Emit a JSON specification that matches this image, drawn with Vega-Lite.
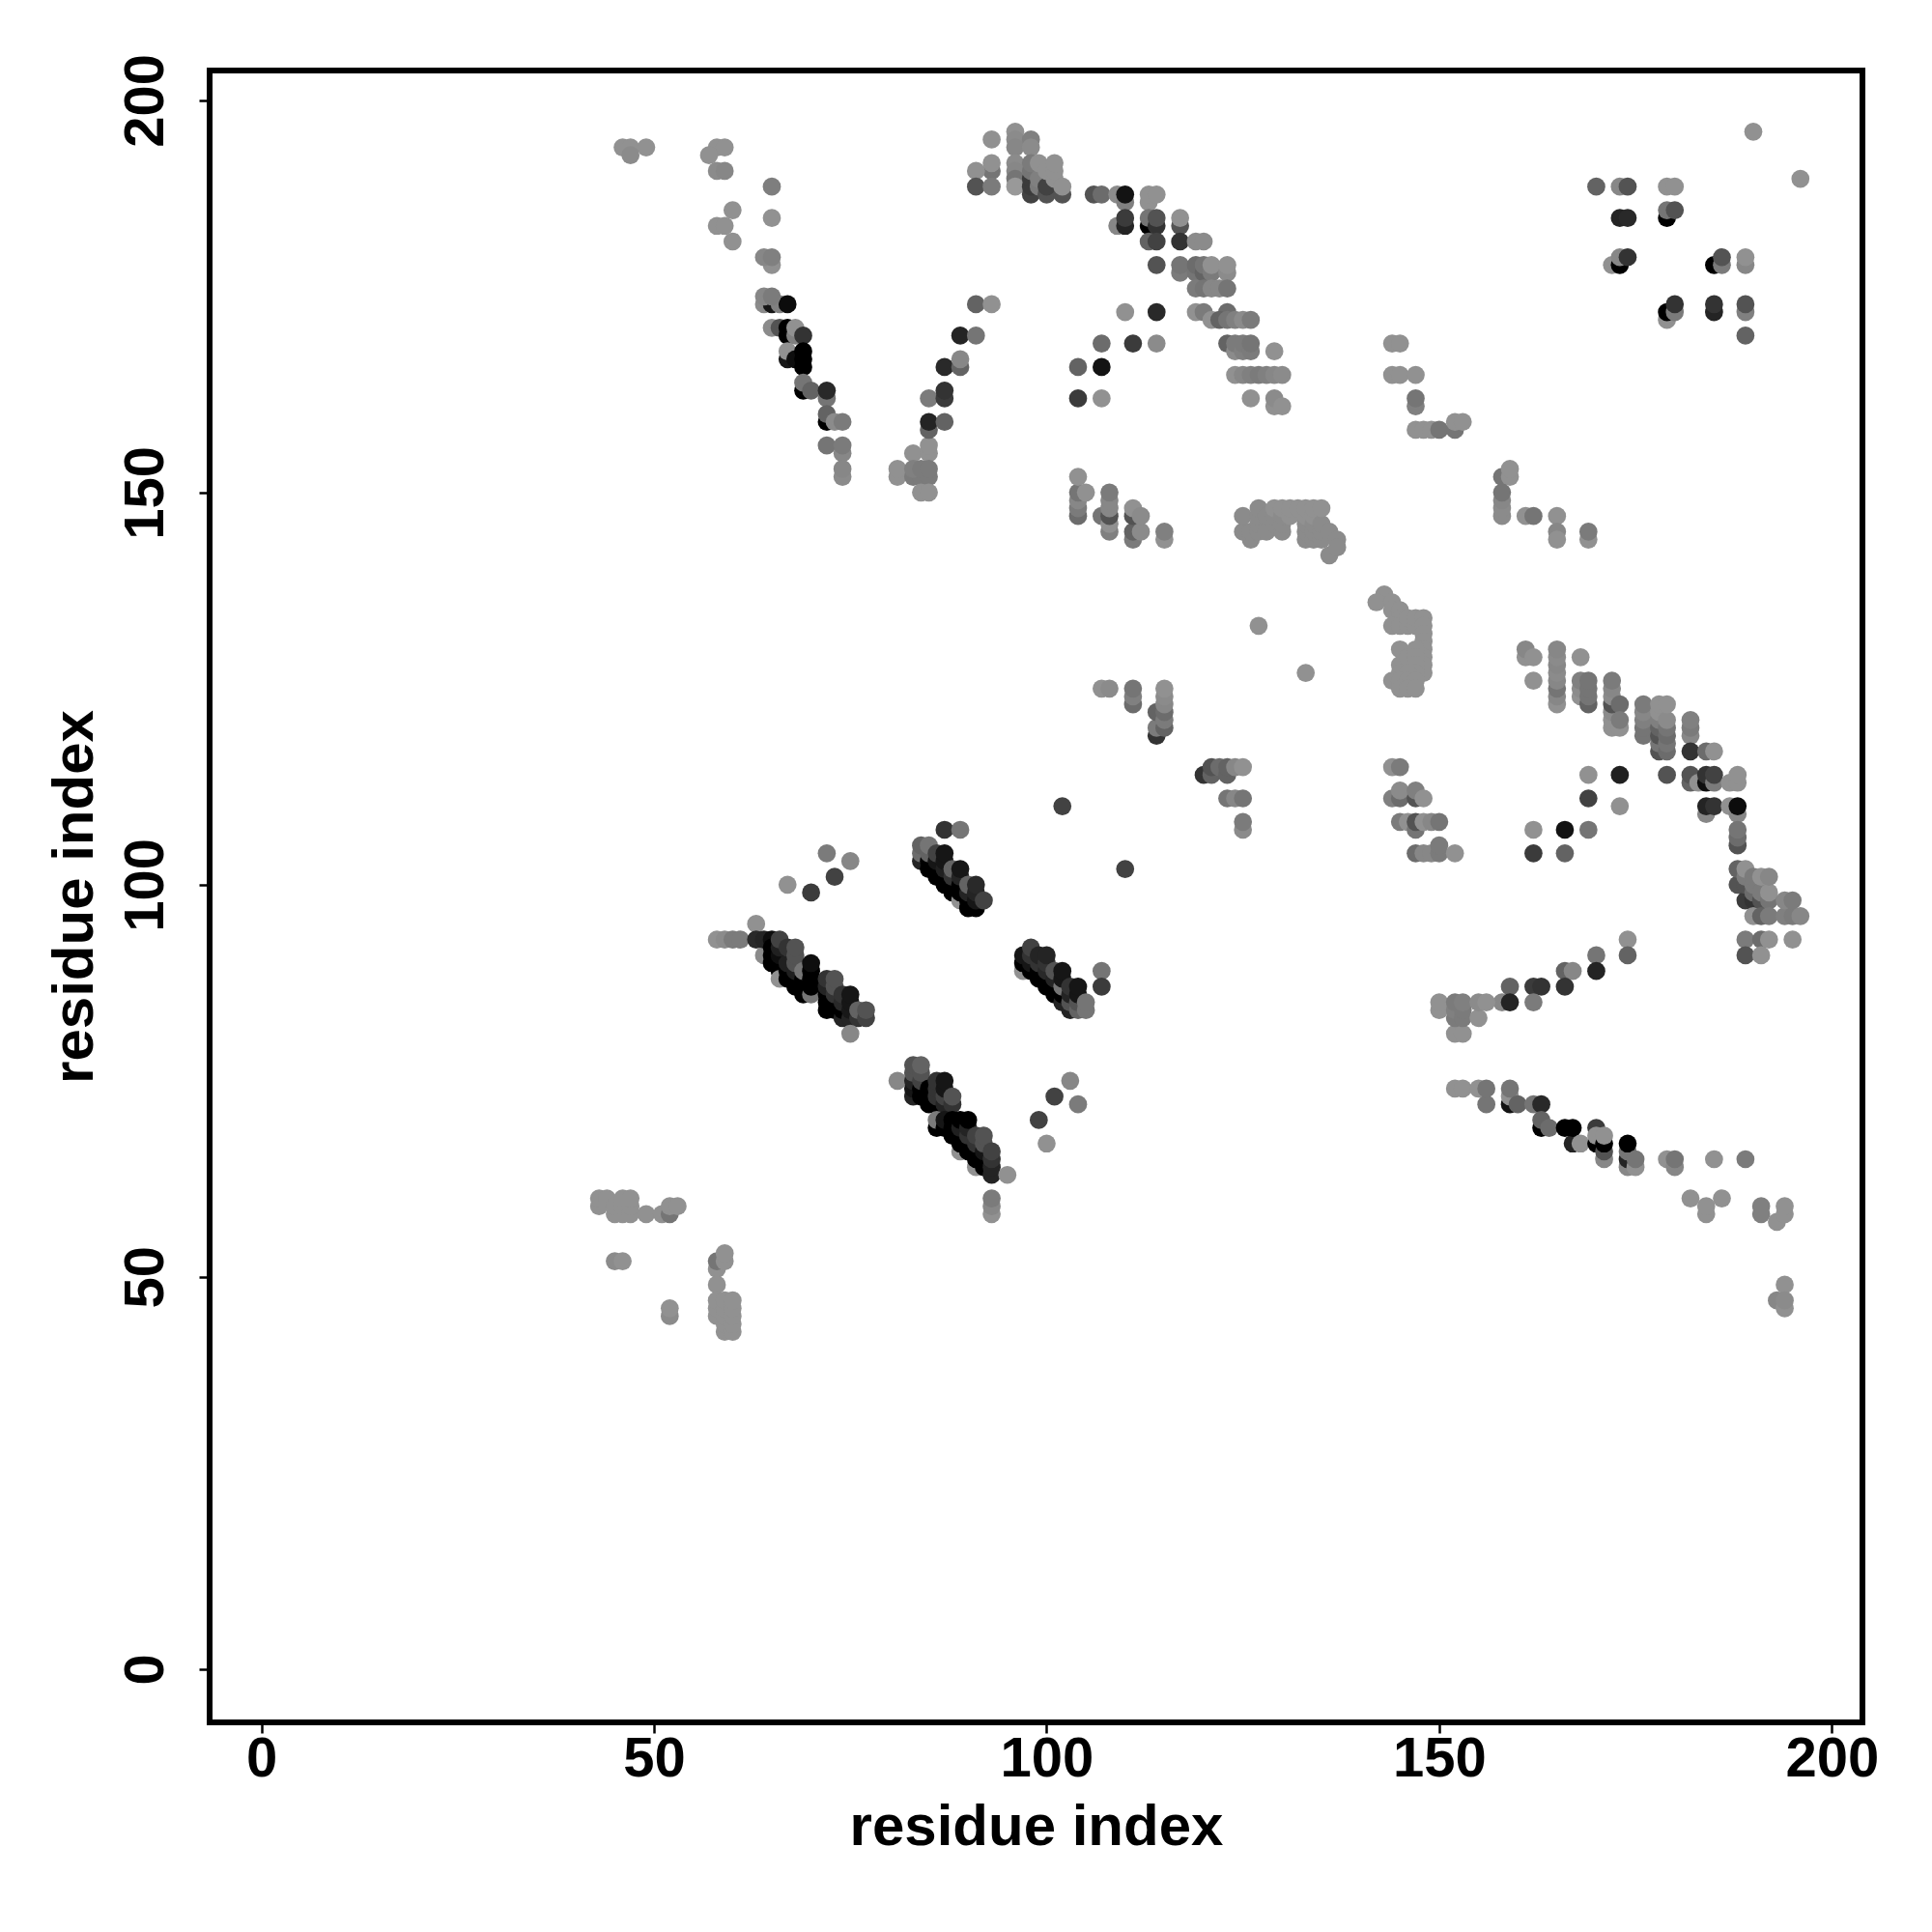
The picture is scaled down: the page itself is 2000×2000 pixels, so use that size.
{"$schema":"https://vega.github.io/schema/vega-lite/v6.json","width":1711,"height":1710,"autosize":"none","padding":{"left":217,"top":73,"right":72,"bottom":217},"background":"white","view":{"stroke":"black","strokeWidth":6,"fill":"white"},
"data":{"values":[
{"x":46,"y":194,"g":146},{"x":47,"y":194,"g":146},{"x":49,"y":194,"g":146},{"x":47,"y":193,"g":140},{"x":58,"y":194,"g":146},{"x":59,"y":194,"g":146},{"x":57,"y":193,"g":146},{"x":58,"y":191,"g":140},{"x":59,"y":191,"g":136},{"x":65,"y":189,"g":128},{"x":60,"y":186,"g":146},{"x":65,"y":185,"g":146},{"x":58,"y":184,"g":146},{"x":59,"y":184,"g":146},{"x":60,"y":182,"g":146},{"x":65,"y":179,"g":146},{"x":64,"y":180,"g":136},{"x":65,"y":180,"g":130},{"x":64,"y":174,"g":140},{"x":65,"y":174,"g":17},{"x":66,"y":174,"g":130},{"x":67,"y":174,"g":8},{"x":64,"y":175,"g":136},{"x":65,"y":175,"g":125},
{"x":65,"y":171,"g":140},{"x":66,"y":171,"g":85},{"x":67,"y":170,"g":0},{"x":67,"y":171,"g":0},{"x":68,"y":170,"g":130},{"x":68,"y":171,"g":146},{"x":69,"y":170,"g":51},{"x":67,"y":167,"g":20},{"x":67,"y":168,"g":146},{"x":68,"y":167,"g":10},{"x":69,"y":166,"g":0},{"x":69,"y":167,"g":0},{"x":69,"y":168,"g":0},{"x":69,"y":163,"g":0},{"x":69,"y":164,"g":119},{"x":70,"y":163,"g":102},{"x":72,"y":162,"g":119},{"x":72,"y":163,"g":40},{"x":72,"y":159,"g":0},{"x":72,"y":160,"g":102},{"x":73,"y":159,"g":140},{"x":74,"y":159,"g":125},{"x":72,"y":156,"g":119},{"x":74,"y":155,"g":136},{"x":74,"y":156,"g":125},{"x":74,"y":152,"g":140},{"x":74,"y":153,"g":136},
{"x":81,"y":152,"g":146},{"x":81,"y":153,"g":146},{"x":83,"y":155,"g":146},{"x":85,"y":155,"g":146},{"x":85,"y":156,"g":146},{"x":83,"y":152,"g":125},{"x":84,"y":152,"g":125},{"x":85,"y":152,"g":125},{"x":83,"y":153,"g":130},{"x":84,"y":153,"g":125},{"x":85,"y":153,"g":125},{"x":84,"y":150,"g":146},{"x":85,"y":150,"g":146},{"x":85,"y":158,"g":102},{"x":85,"y":159,"g":34},{"x":87,"y":159,"g":102},{"x":85,"y":162,"g":125},{"x":87,"y":162,"g":60},{"x":87,"y":163,"g":51},{"x":87,"y":166,"g":40},{"x":89,"y":166,"g":102},{"x":89,"y":167,"g":136},{"x":89,"y":170,"g":34},{"x":91,"y":170,"g":119},{"x":91,"y":174,"g":102},{"x":93,"y":174,"g":146},
{"x":93,"y":195,"g":146},{"x":96,"y":196,"g":146},{"x":96,"y":195,"g":140},{"x":96,"y":194,"g":136},{"x":98,"y":195,"g":130},{"x":98,"y":194,"g":140},{"x":96,"y":192,"g":140},{"x":96,"y":191,"g":136},{"x":96,"y":190,"g":119},{"x":96,"y":189,"g":153},{"x":93,"y":191,"g":119},{"x":93,"y":192,"g":146},{"x":91,"y":191,"g":146},{"x":91,"y":189,"g":85},{"x":93,"y":189,"g":125},{"x":98,"y":188,"g":68},{"x":98,"y":189,"g":60},{"x":98,"y":190,"g":60},{"x":98,"y":191,"g":119},{"x":98,"y":192,"g":125},{"x":99,"y":189,"g":125},{"x":99,"y":190,"g":130},{"x":99,"y":192,"g":146},{"x":100,"y":188,"g":85},{"x":100,"y":189,"g":68},{"x":100,"y":191,"g":146},{"x":101,"y":190,"g":146},{"x":101,"y":191,"g":146},{"x":101,"y":192,"g":146},{"x":102,"y":188,"g":85},{"x":102,"y":189,"g":146},
{"x":106,"y":188,"g":85},{"x":107,"y":188,"g":110},{"x":109,"y":188,"g":140},{"x":110,"y":187,"g":130},{"x":110,"y":188,"g":14},{"x":113,"y":187,"g":146},{"x":113,"y":188,"g":146},{"x":114,"y":188,"g":146},{"x":109,"y":184,"g":136},{"x":110,"y":184,"g":34},{"x":110,"y":185,"g":60},{"x":113,"y":184,"g":0},{"x":113,"y":185,"g":119},{"x":114,"y":184,"g":51},{"x":114,"y":185,"g":85},{"x":117,"y":184,"g":85},{"x":117,"y":185,"g":146},{"x":113,"y":182,"g":102},{"x":114,"y":182,"g":68},{"x":117,"y":182,"g":51},{"x":119,"y":182,"g":140},{"x":120,"y":182,"g":140},{"x":114,"y":179,"g":85},{"x":117,"y":178,"g":125},{"x":117,"y":179,"g":119},{"x":119,"y":178,"g":119},{"x":119,"y":179,"g":110},{"x":120,"y":178,"g":102},{"x":120,"y":179,"g":119},{"x":121,"y":178,"g":125},{"x":121,"y":179,"g":146},{"x":123,"y":178,"g":140},{"x":123,"y":179,"g":146},{"x":119,"y":176,"g":125},{"x":120,"y":176,"g":119},{"x":121,"y":176,"g":136},{"x":122,"y":176,"g":136},{"x":123,"y":176,"g":119},
{"x":110,"y":173,"g":146},{"x":114,"y":173,"g":40},{"x":119,"y":173,"g":146},{"x":120,"y":173,"g":125},{"x":123,"y":173,"g":110},{"x":121,"y":172,"g":146},{"x":122,"y":172,"g":102},{"x":123,"y":172,"g":119},{"x":124,"y":172,"g":130},{"x":125,"y":172,"g":140},{"x":126,"y":172,"g":125},{"x":107,"y":169,"g":110},{"x":111,"y":169,"g":60},{"x":114,"y":169,"g":140},{"x":123,"y":169,"g":102},{"x":124,"y":168,"g":140},{"x":124,"y":169,"g":125},{"x":125,"y":168,"g":130},{"x":125,"y":169,"g":125},{"x":126,"y":168,"g":125},{"x":126,"y":169,"g":119},{"x":129,"y":168,"g":146},{"x":104,"y":166,"g":102},{"x":107,"y":166,"g":14},{"x":124,"y":165,"g":146},{"x":125,"y":165,"g":136},{"x":126,"y":165,"g":130},{"x":127,"y":165,"g":125},{"x":128,"y":165,"g":130},{"x":129,"y":165,"g":136},{"x":130,"y":165,"g":140},{"x":104,"y":162,"g":60},{"x":107,"y":162,"g":146},{"x":126,"y":162,"g":146},{"x":129,"y":161,"g":146},{"x":129,"y":162,"g":140},{"x":130,"y":161,"g":146},
{"x":144,"y":169,"g":146},{"x":145,"y":169,"g":146},{"x":144,"y":165,"g":146},{"x":145,"y":165,"g":146},{"x":147,"y":165,"g":146},{"x":147,"y":161,"g":130},{"x":147,"y":162,"g":119},{"x":147,"y":158,"g":146},{"x":148,"y":158,"g":146},{"x":149,"y":158,"g":146},{"x":150,"y":158,"g":119},{"x":152,"y":158,"g":119},{"x":152,"y":159,"g":146},{"x":153,"y":159,"g":146},{"x":158,"y":152,"g":119},{"x":159,"y":152,"g":146},{"x":159,"y":153,"g":146},{"x":158,"y":147,"g":140},{"x":158,"y":148,"g":140},{"x":158,"y":149,"g":136},{"x":158,"y":150,"g":119},{"x":161,"y":147,"g":146},{"x":162,"y":147,"g":119},{"x":165,"y":147,"g":146},{"x":165,"y":145,"g":136},{"x":165,"y":144,"g":146},{"x":169,"y":144,"g":146},{"x":169,"y":145,"g":125},
{"x":104,"y":147,"g":110},{"x":104,"y":148,"g":125},{"x":104,"y":149,"g":136},{"x":104,"y":150,"g":119},{"x":105,"y":150,"g":146},{"x":104,"y":152,"g":146},{"x":107,"y":147,"g":119},{"x":108,"y":145,"g":130},{"x":108,"y":146,"g":146},{"x":108,"y":147,"g":85},{"x":108,"y":148,"g":136},{"x":108,"y":149,"g":136},{"x":108,"y":150,"g":125},{"x":111,"y":144,"g":125},{"x":111,"y":145,"g":102},{"x":111,"y":147,"g":85},{"x":111,"y":148,"g":146},{"x":112,"y":145,"g":140},{"x":112,"y":147,"g":140},{"x":115,"y":144,"g":146},{"x":115,"y":145,"g":130},
{"x":125,"y":145,"g":140},{"x":125,"y":147,"g":140},{"x":126,"y":144,"g":140},{"x":126,"y":145,"g":140},{"x":127,"y":145,"g":140},{"x":127,"y":146,"g":140},{"x":127,"y":147,"g":140},{"x":127,"y":148,"g":140},{"x":128,"y":145,"g":140},{"x":128,"y":147,"g":140},{"x":129,"y":146,"g":140},{"x":129,"y":147,"g":140},{"x":129,"y":148,"g":146},{"x":130,"y":145,"g":140},{"x":130,"y":146,"g":140},{"x":130,"y":147,"g":140},{"x":130,"y":148,"g":146},{"x":131,"y":147,"g":146},{"x":131,"y":148,"g":146},{"x":132,"y":148,"g":146},{"x":133,"y":144,"g":140},{"x":133,"y":145,"g":140},{"x":133,"y":146,"g":140},{"x":133,"y":147,"g":146},{"x":133,"y":148,"g":146},{"x":134,"y":144,"g":140},{"x":134,"y":145,"g":140},{"x":134,"y":146,"g":140},{"x":134,"y":147,"g":146},{"x":134,"y":148,"g":146},{"x":135,"y":144,"g":140},{"x":135,"y":145,"g":140},{"x":135,"y":146,"g":140},{"x":135,"y":148,"g":146},{"x":136,"y":145,"g":140},{"x":136,"y":142,"g":140},{"x":137,"y":144,"g":140},{"x":137,"y":143,"g":140},
{"x":127,"y":133,"g":146},{"x":133,"y":127,"g":146},{"x":143,"y":137,"g":146},{"x":142,"y":136,"g":146},{"x":144,"y":136,"g":146},{"x":144,"y":135,"g":146},{"x":145,"y":135,"g":146},{"x":145,"y":134,"g":146},{"x":144,"y":133,"g":146},{"x":145,"y":133,"g":146},{"x":146,"y":133,"g":146},{"x":146,"y":134,"g":146},{"x":147,"y":133,"g":146},{"x":147,"y":134,"g":146},{"x":148,"y":134,"g":146},{"x":148,"y":133,"g":146},{"x":148,"y":132,"g":146},{"x":148,"y":131,"g":146},{"x":148,"y":130,"g":146},{"x":148,"y":129,"g":146},{"x":148,"y":128,"g":146},{"x":148,"y":127,"g":146},{"x":145,"y":130,"g":146},{"x":145,"y":128,"g":146},{"x":145,"y":127,"g":146},{"x":146,"y":129,"g":146},{"x":147,"y":130,"g":146},{"x":147,"y":129,"g":146},{"x":147,"y":128,"g":146},{"x":147,"y":127,"g":146},{"x":146,"y":127,"g":146},{"x":144,"y":126,"g":146},{"x":145,"y":126,"g":146},{"x":146,"y":126,"g":146},{"x":147,"y":126,"g":146},{"x":145,"y":125,"g":146},{"x":146,"y":125,"g":146},{"x":147,"y":125,"g":146},
{"x":107,"y":125,"g":146},{"x":108,"y":125,"g":140},{"x":111,"y":123,"g":110},{"x":111,"y":124,"g":130},{"x":111,"y":125,"g":119},{"x":114,"y":119,"g":51},{"x":114,"y":120,"g":125},{"x":114,"y":122,"g":102},{"x":115,"y":120,"g":102},{"x":115,"y":121,"g":125},{"x":115,"y":122,"g":110},{"x":115,"y":123,"g":136},{"x":115,"y":124,"g":140},{"x":115,"y":125,"g":146},
{"x":120,"y":114,"g":51},{"x":121,"y":114,"g":102},{"x":121,"y":115,"g":85},{"x":122,"y":115,"g":110},{"x":123,"y":114,"g":102},{"x":123,"y":115,"g":102},{"x":124,"y":115,"g":136},{"x":125,"y":115,"g":146},{"x":123,"y":111,"g":119},{"x":124,"y":111,"g":136},{"x":125,"y":111,"g":119},{"x":125,"y":107,"g":140},{"x":125,"y":108,"g":125},
{"x":161,"y":129,"g":146},{"x":161,"y":130,"g":136},{"x":162,"y":129,"g":146},{"x":162,"y":126,"g":146},{"x":165,"y":123,"g":146},{"x":165,"y":124,"g":136},{"x":165,"y":125,"g":119},{"x":165,"y":126,"g":136},{"x":165,"y":127,"g":140},{"x":165,"y":128,"g":136},{"x":165,"y":129,"g":140},{"x":165,"y":130,"g":136},{"x":168,"y":129,"g":146},{"x":168,"y":124,"g":146},{"x":168,"y":125,"g":140},{"x":168,"y":126,"g":130},{"x":169,"y":123,"g":102},{"x":169,"y":124,"g":119},{"x":169,"y":125,"g":119},{"x":169,"y":126,"g":119},{"x":172,"y":120,"g":146},{"x":172,"y":121,"g":146},{"x":172,"y":122,"g":140},{"x":172,"y":123,"g":85},{"x":172,"y":124,"g":140},{"x":172,"y":125,"g":136},{"x":172,"y":126,"g":125},{"x":173,"y":123,"g":110},{"x":173,"y":120,"g":146},{"x":173,"y":121,"g":125},{"x":176,"y":119,"g":119},{"x":176,"y":120,"g":119},{"x":176,"y":121,"g":130},{"x":176,"y":122,"g":136},{"x":176,"y":123,"g":125},{"x":178,"y":117,"g":85},{"x":178,"y":118,"g":119},{"x":178,"y":119,"g":85},{"x":178,"y":120,"g":102},{"x":178,"y":121,"g":130},{"x":178,"y":122,"g":146},{"x":178,"y":123,"g":146},{"x":179,"y":117,"g":110},{"x":179,"y":118,"g":119},{"x":179,"y":119,"g":110},{"x":179,"y":120,"g":119},{"x":179,"y":121,"g":140},{"x":179,"y":123,"g":146},{"x":182,"y":119,"g":136},{"x":182,"y":120,"g":125},{"x":182,"y":121,"g":130},{"x":182,"y":117,"g":51},{"x":184,"y":117,"g":110},{"x":185,"y":117,"g":146},
{"x":169,"y":114,"g":146},{"x":173,"y":114,"g":30},{"x":179,"y":114,"g":85},{"x":182,"y":113,"g":102},{"x":182,"y":114,"g":85},{"x":183,"y":113,"g":146},{"x":184,"y":113,"g":10},{"x":184,"y":114,"g":51},{"x":185,"y":113,"g":125},{"x":185,"y":114,"g":68},{"x":187,"y":113,"g":146},{"x":188,"y":113,"g":146},{"x":188,"y":114,"g":146},{"x":169,"y":111,"g":68},{"x":173,"y":110,"g":146},{"x":184,"y":109,"g":136},{"x":184,"y":110,"g":34},{"x":185,"y":110,"g":51},{"x":187,"y":110,"g":146},{"x":188,"y":109,"g":136},{"x":188,"y":110,"g":8},{"x":188,"y":105,"g":85},{"x":188,"y":106,"g":110},{"x":188,"y":107,"g":119},{"x":162,"y":107,"g":146},{"x":166,"y":107,"g":14},{"x":169,"y":107,"g":119},{"x":162,"y":104,"g":60},{"x":166,"y":104,"g":102},
{"x":144,"y":115,"g":146},{"x":145,"y":115,"g":125},{"x":144,"y":111,"g":130},{"x":145,"y":111,"g":110},{"x":145,"y":112,"g":140},{"x":147,"y":111,"g":85},{"x":147,"y":112,"g":130},{"x":148,"y":111,"g":146},{"x":145,"y":108,"g":125},{"x":146,"y":108,"g":146},{"x":147,"y":107,"g":119},{"x":147,"y":108,"g":85},{"x":148,"y":108,"g":146},{"x":149,"y":108,"g":136},{"x":150,"y":108,"g":119},{"x":147,"y":104,"g":110},{"x":148,"y":104,"g":136},{"x":149,"y":104,"g":136},{"x":150,"y":104,"g":125},{"x":150,"y":105,"g":125},{"x":152,"y":104,"g":146},
{"x":188,"y":100,"g":85},{"x":188,"y":102,"g":102},{"x":189,"y":98,"g":60},{"x":189,"y":100,"g":85},{"x":189,"y":101,"g":125},{"x":189,"y":102,"g":146},{"x":190,"y":98,"g":51},{"x":190,"y":99,"g":110},{"x":190,"y":100,"g":125},{"x":190,"y":101,"g":125},{"x":190,"y":96,"g":146},{"x":191,"y":98,"g":85},{"x":191,"y":99,"g":125},{"x":191,"y":101,"g":146},{"x":191,"y":96,"g":102},{"x":192,"y":98,"g":119},{"x":192,"y":99,"g":146},{"x":192,"y":101,"g":136},{"x":192,"y":96,"g":125},{"x":194,"y":96,"g":130},{"x":194,"y":98,"g":136},{"x":195,"y":96,"g":125},{"x":195,"y":98,"g":125},{"x":196,"y":96,"g":136},{"x":189,"y":93,"g":125},{"x":191,"y":93,"g":110},{"x":192,"y":93,"g":146},{"x":195,"y":93,"g":146},{"x":189,"y":91,"g":85},{"x":191,"y":91,"g":146},
{"x":174,"y":93,"g":146},{"x":174,"y":91,"g":102},{"x":170,"y":91,"g":119},{"x":170,"y":89,"g":34},{"x":166,"y":89,"g":102},{"x":167,"y":89,"g":136},{"x":166,"y":87,"g":51},{"x":162,"y":87,"g":60},{"x":163,"y":87,"g":51},{"x":159,"y":87,"g":102},{"x":158,"y":85,"g":136},{"x":159,"y":85,"g":34},{"x":162,"y":85,"g":125},
{"x":150,"y":84,"g":146},{"x":150,"y":85,"g":146},{"x":152,"y":81,"g":146},{"x":153,"y":81,"g":146},{"x":152,"y":83,"g":125},{"x":152,"y":84,"g":130},{"x":152,"y":85,"g":125},{"x":153,"y":83,"g":125},{"x":153,"y":84,"g":125},{"x":153,"y":85,"g":130},{"x":155,"y":83,"g":146},{"x":155,"y":85,"g":140},{"x":156,"y":85,"g":146},
{"x":152,"y":74,"g":146},{"x":153,"y":74,"g":146},{"x":155,"y":74,"g":146},{"x":156,"y":72,"g":119},{"x":156,"y":74,"g":119},{"x":159,"y":72,"g":14},{"x":159,"y":73,"g":146},{"x":159,"y":74,"g":119},{"x":160,"y":72,"g":102},{"x":162,"y":72,"g":119},{"x":163,"y":72,"g":40},{"x":163,"y":69,"g":0},{"x":163,"y":70,"g":102},{"x":164,"y":69,"g":110},{"x":166,"y":69,"g":0},{"x":167,"y":67,"g":34},{"x":167,"y":69,"g":0},{"x":168,"y":67,"g":146},{"x":170,"y":67,"g":0},{"x":170,"y":69,"g":60},{"x":170,"y":68,"g":146},{"x":171,"y":65,"g":136},{"x":171,"y":66,"g":85},{"x":171,"y":67,"g":0},{"x":171,"y":68,"g":146},{"x":174,"y":64,"g":136},{"x":174,"y":65,"g":34},{"x":174,"y":66,"g":119},{"x":174,"y":67,"g":0},{"x":175,"y":64,"g":146},{"x":175,"y":65,"g":119},{"x":179,"y":65,"g":146},{"x":180,"y":64,"g":136},{"x":180,"y":65,"g":119},{"x":185,"y":65,"g":146},{"x":189,"y":65,"g":125},
{"x":182,"y":60,"g":146},{"x":184,"y":58,"g":146},{"x":184,"y":59,"g":146},{"x":186,"y":60,"g":146},{"x":191,"y":58,"g":130},{"x":191,"y":59,"g":130},{"x":193,"y":57,"g":146},{"x":194,"y":58,"g":146},{"x":194,"y":59,"g":146},{"x":194,"y":49,"g":146},{"x":193,"y":47,"g":136},{"x":194,"y":46,"g":146},{"x":194,"y":47,"g":140},
{"x":43,"y":59,"g":146},{"x":43,"y":60,"g":146},{"x":44,"y":60,"g":146},{"x":45,"y":58,"g":146},{"x":45,"y":59,"g":146},{"x":46,"y":58,"g":146},{"x":46,"y":59,"g":146},{"x":46,"y":60,"g":146},{"x":47,"y":58,"g":146},{"x":47,"y":59,"g":146},{"x":47,"y":60,"g":146},{"x":49,"y":58,"g":146},{"x":51,"y":58,"g":146},{"x":52,"y":58,"g":119},{"x":52,"y":59,"g":146},{"x":53,"y":59,"g":146},{"x":45,"y":52,"g":140},{"x":46,"y":52,"g":146},{"x":52,"y":45,"g":140},{"x":52,"y":46,"g":146},{"x":58,"y":51,"g":146},{"x":58,"y":52,"g":119},{"x":59,"y":52,"g":146},{"x":59,"y":53,"g":146},{"x":58,"y":49,"g":146},{"x":58,"y":45,"g":146},{"x":58,"y":46,"g":146},{"x":58,"y":47,"g":146},{"x":59,"y":43,"g":146},{"x":59,"y":44,"g":146},{"x":59,"y":45,"g":146},{"x":59,"y":46,"g":146},{"x":59,"y":47,"g":146},{"x":60,"y":43,"g":146},{"x":60,"y":44,"g":146},{"x":60,"y":45,"g":146},{"x":60,"y":46,"g":146},{"x":60,"y":47,"g":146},
{"x":170,"y":189,"g":102},{"x":173,"y":189,"g":136},{"x":174,"y":189,"g":85},{"x":179,"y":189,"g":146},{"x":180,"y":189,"g":146},{"x":179,"y":185,"g":0},{"x":179,"y":186,"g":119},{"x":180,"y":186,"g":85},{"x":173,"y":185,"g":34},{"x":174,"y":185,"g":40},{"x":172,"y":179,"g":146},{"x":173,"y":179,"g":0},{"x":173,"y":180,"g":136},{"x":174,"y":180,"g":51},{"x":185,"y":179,"g":0},{"x":186,"y":179,"g":125},{"x":186,"y":180,"g":85},{"x":189,"y":179,"g":136},{"x":189,"y":180,"g":146},{"x":179,"y":172,"g":146},{"x":179,"y":173,"g":0},{"x":180,"y":173,"g":125},{"x":180,"y":174,"g":51},{"x":185,"y":173,"g":34},{"x":185,"y":174,"g":51},{"x":189,"y":173,"g":130},{"x":189,"y":174,"g":85},{"x":189,"y":170,"g":102},{"x":190,"y":196,"g":146},{"x":196,"y":190,"g":146},
{"x":58,"y":93,"g":146},{"x":59,"y":93,"g":140},{"x":60,"y":93,"g":125},{"x":61,"y":93,"g":125},{"x":63,"y":95,"g":146},{"x":64,"y":91,"g":140},{"x":63,"y":93,"g":40},{"x":64,"y":93,"g":34},{"x":65,"y":93,"g":10},{"x":65,"y":90,"g":0},{"x":65,"y":91,"g":0},{"x":65,"y":92,"g":0},{"x":66,"y":89,"g":0},{"x":66,"y":90,"g":0},{"x":66,"y":91,"g":10},{"x":66,"y":92,"g":30},{"x":66,"y":93,"g":68},{"x":66,"y":88,"g":146},{"x":67,"y":88,"g":0},{"x":67,"y":89,"g":0},{"x":67,"y":90,"g":30},{"x":67,"y":92,"g":51},{"x":68,"y":87,"g":0},{"x":68,"y":88,"g":0},{"x":68,"y":89,"g":30},{"x":68,"y":90,"g":85},{"x":68,"y":91,"g":85},{"x":68,"y":92,"g":85},{"x":69,"y":86,"g":0},{"x":69,"y":87,"g":0},{"x":69,"y":88,"g":0},{"x":69,"y":89,"g":119},{"x":70,"y":86,"g":119},{"x":70,"y":87,"g":0},{"x":70,"y":88,"g":0},{"x":70,"y":89,"g":0},{"x":70,"y":90,"g":10},
{"x":72,"y":84,"g":0},{"x":72,"y":85,"g":0},{"x":72,"y":86,"g":0},{"x":72,"y":87,"g":34},{"x":72,"y":88,"g":51},{"x":73,"y":84,"g":0},{"x":73,"y":85,"g":0},{"x":73,"y":86,"g":51},{"x":73,"y":87,"g":85},{"x":73,"y":88,"g":85},{"x":74,"y":83,"g":34},{"x":74,"y":84,"g":0},{"x":74,"y":85,"g":40},{"x":74,"y":86,"g":51},{"x":75,"y":83,"g":34},{"x":75,"y":84,"g":20},{"x":75,"y":85,"g":17},{"x":75,"y":86,"g":17},{"x":76,"y":83,"g":51},{"x":76,"y":84,"g":102},{"x":77,"y":83,"g":68},{"x":77,"y":84,"g":85},{"x":75,"y":81,"g":136},
{"x":72,"y":104,"g":125},{"x":75,"y":103,"g":136},{"x":73,"y":101,"g":68},{"x":70,"y":99,"g":60},{"x":67,"y":100,"g":146},
{"x":87,"y":107,"g":51},{"x":89,"y":107,"g":119},{"x":84,"y":103,"g":34},{"x":84,"y":104,"g":110},{"x":84,"y":105,"g":102},{"x":85,"y":102,"g":0},{"x":85,"y":103,"g":0},{"x":85,"y":104,"g":102},{"x":85,"y":105,"g":119},{"x":86,"y":101,"g":0},{"x":86,"y":102,"g":0},{"x":86,"y":103,"g":17},{"x":86,"y":104,"g":68},{"x":87,"y":100,"g":0},{"x":87,"y":101,"g":0},{"x":87,"y":102,"g":30},{"x":87,"y":103,"g":17},{"x":87,"y":104,"g":17},{"x":88,"y":99,"g":0},{"x":88,"y":100,"g":0},{"x":88,"y":101,"g":51},{"x":88,"y":102,"g":102},{"x":89,"y":98,"g":146},{"x":89,"y":99,"g":0},{"x":89,"y":100,"g":0},{"x":89,"y":101,"g":34},{"x":89,"y":102,"g":17},{"x":90,"y":97,"g":0},{"x":90,"y":98,"g":0},{"x":90,"y":99,"g":34},{"x":90,"y":100,"g":102},{"x":91,"y":97,"g":0},{"x":91,"y":98,"g":17},{"x":91,"y":99,"g":34},{"x":91,"y":100,"g":40},{"x":92,"y":98,"g":68},
{"x":97,"y":89,"g":146},{"x":97,"y":90,"g":0},{"x":97,"y":91,"g":17},{"x":98,"y":89,"g":0},{"x":98,"y":90,"g":17},{"x":98,"y":91,"g":51},{"x":98,"y":92,"g":68},{"x":99,"y":88,"g":0},{"x":99,"y":89,"g":0},{"x":99,"y":90,"g":51},{"x":99,"y":91,"g":34},{"x":100,"y":87,"g":0},{"x":100,"y":88,"g":0},{"x":100,"y":89,"g":40},{"x":100,"y":90,"g":51},{"x":100,"y":91,"g":34},{"x":101,"y":86,"g":0},{"x":101,"y":87,"g":0},{"x":101,"y":88,"g":34},{"x":101,"y":89,"g":85},{"x":102,"y":85,"g":34},{"x":102,"y":86,"g":0},{"x":102,"y":87,"g":119},{"x":102,"y":88,"g":17},{"x":102,"y":89,"g":17},{"x":103,"y":84,"g":34},{"x":103,"y":85,"g":85},{"x":103,"y":86,"g":34},{"x":103,"y":87,"g":51},{"x":104,"y":84,"g":102},{"x":104,"y":85,"g":85},{"x":104,"y":86,"g":17},{"x":104,"y":87,"g":17},{"x":105,"y":84,"g":119},{"x":105,"y":85,"g":119},{"x":107,"y":89,"g":119},{"x":107,"y":87,"g":60},
{"x":81,"y":75,"g":136},{"x":83,"y":73,"g":34},{"x":83,"y":74,"g":17},{"x":83,"y":75,"g":34},{"x":83,"y":76,"g":85},{"x":83,"y":77,"g":85},{"x":84,"y":73,"g":0},{"x":84,"y":74,"g":0},{"x":84,"y":75,"g":68},{"x":84,"y":76,"g":85},{"x":84,"y":77,"g":102},{"x":85,"y":72,"g":0},{"x":85,"y":73,"g":0},{"x":85,"y":74,"g":0},{"x":86,"y":72,"g":0},{"x":86,"y":73,"g":51},{"x":86,"y":74,"g":51},{"x":86,"y":75,"g":51},{"x":87,"y":72,"g":34},{"x":87,"y":73,"g":68},{"x":87,"y":74,"g":17},{"x":87,"y":75,"g":17},{"x":88,"y":72,"g":51},{"x":88,"y":73,"g":85},
{"x":86,"y":69,"g":0},{"x":86,"y":70,"g":125},{"x":87,"y":69,"g":0},{"x":87,"y":70,"g":17},{"x":88,"y":68,"g":0},{"x":88,"y":69,"g":0},{"x":88,"y":70,"g":0},{"x":89,"y":66,"g":146},{"x":89,"y":67,"g":0},{"x":89,"y":68,"g":0},{"x":89,"y":69,"g":30},{"x":89,"y":70,"g":0},{"x":90,"y":66,"g":0},{"x":90,"y":67,"g":0},{"x":90,"y":68,"g":51},{"x":90,"y":69,"g":34},{"x":90,"y":70,"g":0},{"x":91,"y":64,"g":146},{"x":91,"y":65,"g":0},{"x":91,"y":66,"g":0},{"x":91,"y":67,"g":51},{"x":91,"y":68,"g":68},{"x":92,"y":64,"g":0},{"x":92,"y":65,"g":0},{"x":92,"y":66,"g":17},{"x":92,"y":67,"g":85},{"x":92,"y":68,"g":85},{"x":93,"y":63,"g":34},{"x":93,"y":64,"g":34},{"x":93,"y":65,"g":51},{"x":93,"y":66,"g":68},{"x":95,"y":63,"g":146},{"x":93,"y":58,"g":146},{"x":93,"y":59,"g":136},{"x":93,"y":60,"g":125},
{"x":103,"y":75,"g":136},{"x":101,"y":73,"g":68},{"x":104,"y":72,"g":125},{"x":99,"y":70,"g":68},{"x":100,"y":67,"g":146},{"x":102,"y":110,"g":68},{"x":110,"y":102,"g":68}
]},
"mark":{"type":"point","filled":true,"opacity":1,"size":350,"clip":false},
"encoding":{
"x":{"field":"x","type":"quantitative","scale":{"domain":[-6.6,203.9],"nice":false,"zero":false},"axis":{"values":[0,50,100,150,200],"title":"residue index","grid":false,"domain":false,"tickColor":"black","tickSize":11,"tickWidth":2.5,"labelFont":"Liberation Sans","labelFontWeight":"bold","labelFontSize":58,"labelColor":"black","labelPadding":-2,"labelOverlap":false,"labelFlush":false,"titleFont":"Liberation Sans","titleFontWeight":"bold","titleFontSize":60,"titleColor":"black","titlePadding":12}},
"y":{"field":"y","type":"quantitative","scale":{"domain":[-6.8,203.8],"nice":false,"zero":false},"axis":{"values":[0,50,100,150,200],"title":"residue index","grid":false,"domain":false,"tickColor":"black","tickSize":11,"tickWidth":2.5,"labelFont":"Liberation Sans","labelFontWeight":"bold","labelFontSize":58,"labelColor":"black","labelAngle":-90,"labelAlign":"center","labelBaseline":"bottom","labelPadding":26,"labelOverlap":false,"labelFlush":false,"titleFont":"Liberation Sans","titleFontWeight":"bold","titleFontSize":60,"titleColor":"black","titlePadding":14}},
"color":{"field":"g","type":"quantitative","scale":{"domain":[0,153],"range":["#000000","#999999"]},"legend":null}
}}
